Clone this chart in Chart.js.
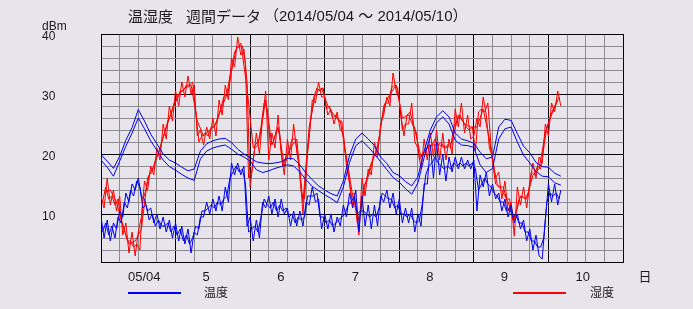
<!DOCTYPE html>
<html>
<head>
<meta charset="utf-8">
<script src="https://cdn.jsdelivr.net/npm/chart.js@4.4.1/dist/chart.umd.min.js"></script>
<style>
  html, body { margin: 0; padding: 0; background: #e8e4ec; }
  #grafico { display: block; }
</style>
</head>
<body>
<canvas id="grafico" width="693" height="309"></canvas>
<script>
// sampling grid (hours since 05/04 00:00)
const horasHora = Array.from({ length: 149 }, (_, i) => i);
const horasMeia = Array.from({ length: 148 }, (_, i) => i + 0.5);
const horasPares = Array.from({ length: 75 }, (_, i) => i * 2);
const horasImpares = Array.from({ length: 74 }, (_, i) => i * 2 + 1);

const diasLabels = ['05/04', '5', '6', '7', '8', '9', '10'];
const yLabels = [10, 20, 30, 40];

// 温度 - two smooth sensors (every 2 h)
const temp1 = [
    19.9, 18.8, 17.6, 19.6, 22.3, 24.4, 27.4, 25.5, 23.3, 21.7,
    20.0, 19.0, 18.5, 17.8, 17.2, 17.5, 20.5, 21.7, 22.2, 22.5,
    22.6, 21.9, 20.8, 20.0, 19.4, 18.7, 18.5, 18.4, 18.5, 18.7,
    19.3, 19.2, 18.2, 16.8, 15.7, 14.7, 14.0, 13.4, 13.0, 15.5,
    19.8, 22.5, 23.5, 22.5, 21.4, 19.5, 18.4, 16.9, 16.4, 15.4,
    14.7, 16.2, 20.5, 24.0, 26.2, 27.2, 26.2, 23.5, 22.5, 22.2,
    21.8, 20.3, 19.2, 19.5, 24.5, 25.8, 25.6, 23.4, 21.3, 20.2,
    18.6, 17.9, 17.8, 16.8, 16.3
];
const temp2 = [
    19.0, 17.8, 16.3, 18.8, 21.3, 23.5, 26.0, 24.2, 22.2, 20.6,
    19.0, 17.9, 17.3, 16.6, 16.0, 15.6, 19.2, 20.5, 21.0, 21.3,
    21.5, 20.8, 20.0, 19.5, 18.8, 17.4, 16.9, 17.2, 17.6, 17.9,
    18.2, 18.0, 17.0, 15.7, 14.6, 13.9, 13.2, 12.6, 11.9, 14.5,
    18.6, 21.4, 22.2, 21.2, 20.0, 18.7, 17.4, 16.1, 15.3, 14.2,
    13.3, 15.2, 19.4, 23.0, 25.2, 26.2, 25.0, 22.3, 21.5, 21.4,
    21.1, 18.2, 16.9, 17.6, 22.5, 24.2, 24.5, 22.0, 19.8, 18.5,
    17.1, 16.3, 16.2, 15.2, 14.8
];
// 温度 - noisy sensor, read on the hour and on the half hour
const temp3 = [
    9.5, 6, 9, 5.5, 8.5, 7.5, 10.5, 9.5, 13.5, 12,
    15, 14, 16, 13, 12.5, 10.5, 11, 8.5, 10, 7.5,
    9.5, 7, 9, 6, 8.5, 5.5, 8, 5, 7.5, 3.5,
    7, 6.5, 9.5, 9.5, 12, 10, 12.5, 10.5, 13, 10.5,
    14.5, 12, 18.5, 16.5, 18.5, 16.5, 18, 8, 9.5, 5.5,
    9, 6, 12, 11, 13, 10, 12.5, 9.5, 12.5, 10,
    11, 8, 10.5, 8, 10.5, 8, 12, 11.5, 14.5, 12,
    12.5, 7.5, 10, 7.5, 10, 7, 9.5, 8, 11.5, 9.5,
    13.5, 11, 14, 7, 13, 8, 11.5, 7.5, 11.5, 8,
    13, 12, 14, 11, 13.5, 10, 12.5, 8.5, 11, 8.5,
    11, 7, 10, 8, 15, 15, 21.5, 16, 22, 16.5,
    20, 15.5, 19.5, 17, 19.5, 17.5, 19.5, 17.5, 19, 17.5,
    19, 10.5, 16.5, 14.5, 17, 13, 15, 12.5, 13.5, 10.5,
    12.5, 9.5, 11.5, 8.5, 10, 7.5, 9, 5.5, 7.5, 4,
    6.5, 3, 2.5, 9, 15, 12, 15, 11.5, 14
];
const temp3Meia = [
    7, 8.5, 6.5, 8, 6, 9.5, 8.5, 12, 11, 14,
    13, 15.5, 14.5, 11, 11.5, 9, 10, 8, 9, 8,
    8, 8.5, 7, 8, 6.5, 7.5, 5.5, 6.5, 5, 6,
    8, 7.5, 10.5, 10.5, 11, 11.5, 11, 12, 11.5, 12.5,
    13, 16, 17, 18, 17, 17.5, 15, 7, 7.5, 8,
    7, 9.5, 12.5, 11.5, 11, 12, 10.5, 11.5, 10.5, 11,
    9.5, 10, 8.5, 9.5, 9, 9.5, 13, 13, 13, 13.5,
    9.5, 9.5, 8.5, 9, 8, 8.5, 9, 9.5, 10, 11.5,
    12, 13, 10, 10.5, 10.5, 10, 9.5, 10, 9.5, 11,
    13.5, 13, 12.5, 12.5, 11, 11.5, 10, 10, 9.5, 10,
    9, 8.5, 9, 12, 16.5, 18, 18.5, 19.5, 18.5, 18,
    17.5, 18, 17.5, 18.5, 18, 18.5, 18, 18.5, 18, 18.5,
    17.5, 14, 15, 16, 15, 14.5, 13.5, 13, 12, 12,
    10.5, 11, 9.5, 10, 8.5, 8.5, 7, 7, 5.5, 5.5,
    4.5, 4.5, 6, 12, 13.5, 13, 13.5, 12.5
];

// 湿度 - hourly, half-hourly and a third sensor on odd hours
const umid1 = [
    13, 11, 16, 11.5, 14, 10.5, 13, 6.5, 8.5, 3.5,
    7, 3, 7, 9.5, 15.5, 14, 18, 16.5, 21, 19,
    25, 22.5, 28, 25.5, 30.5, 28, 32, 29.5, 33, 30,
    31.5, 23, 24, 21.5, 24.5, 22.5, 26, 23, 29, 26.5,
    31.5, 29, 36, 34.5, 39.5, 36.5, 37.5, 32, 14.5, 19,
    23.5, 20, 26, 30.5, 19, 23.5, 21, 26.5, 20, 16.5,
    22.5, 19, 25, 20.5, 17, 10, 17.5, 23, 29, 28.5,
    32, 29.5, 29.5, 26.5, 27.5, 25, 27, 24, 23.5, 18,
    15, 11.5, 11, 6.5, 16, 13, 17.5, 16.5, 22, 19.5,
    25, 26.5, 29.5, 28, 33.5, 30.5, 29, 24, 25, 25,
    28.5, 22, 21, 17.5, 22.5, 19, 23.5, 19.5, 24, 19,
    23.5, 19, 22.5, 20, 27.5, 24.5, 28.5, 23.5, 26.5, 22.5,
    23, 26, 24.5, 29.5, 26.5, 21, 19.5, 16, 17, 12.5,
    15.5, 10.5, 12, 6.3, 14.5, 11.5, 14.5, 11, 15, 18.5,
    16, 19.5, 18.5, 25, 23, 28.5, 27, 30.5, 28
];
const umidMeia = [
    12, 14.5, 12.5, 13, 11.5, 12.5, 9, 7.5, 5.5, 5.5,
    4.5, 5, 4, 12.5, 14, 16.5, 17, 19, 20, 22,
    23.5, 25.5, 26.5, 28.5, 29, 30.5, 30.5, 31.5, 31.5, 32,
    27, 22, 23, 23.5, 23, 24.5, 24.5, 26, 27.5, 29.5,
    30, 33, 35, 37.5, 38, 38, 35, 16, 17, 21,
    21.5, 24.5, 28.5, 27.5, 21.5, 22, 24, 23.5, 18, 19.5,
    20.5, 22.5, 22.5, 19, 13.5, 12.5, 20.5, 25.5, 29.5, 31,
    30.5, 31, 27.5, 28, 26, 26.5, 25.5, 25.5, 20.5, 17.5,
    13, 13.5, 8.5, 10, 14.5, 15.5, 17, 19, 20.5, 22.5,
    26, 28.5, 28.5, 31, 31.5, 31, 26.5, 23, 26.5, 27,
    25, 23.5, 19, 20, 20.5, 21.5, 21.5, 22.5, 21.5, 22,
    21, 21.5, 21, 24.5, 25.5, 26.5, 25.5, 24.5, 24, 24.5,
    20.5, 27, 27.5, 27, 28.5, 21.5, 17.5, 15, 14.5, 14.5,
    12.5, 12.5, 9, 10, 12.5, 13, 12.5, 13.5, 17, 16.5,
    18, 17.5, 21, 24.5, 26, 27.5, 28.5, 29.5
];
const umid2 = [
    13.5, 14, 12, 8, 5, 5.5, 7.5, 16, 18, 21,
    24.5, 27.5, 30, 31, 31.5, 25.5, 23, 24, 25, 28,
    30.5, 37, 38.5, 31, 21, 22.5, 29, 21.5, 24.5, 18,
    21, 22.5, 12, 24.5, 30, 31, 28, 26.5, 25.5, 19.5,
    13, 9, 15, 18.5, 21, 28, 30, 31.5, 26, 26.5,
    24, 19.5, 21, 21.5, 21.5, 21, 22, 26.5, 25, 24.5,
    24.5, 27.5, 22.5, 15, 14, 12, 9, 13, 12.5, 16.5,
    17.5, 23.5, 26.5, 29
];

const AZUL = '#0000f0';
const VERMELHO = '#ff0000';
const FUNDO = '#e8e4ec';
const TEXTO = '#1a1a1a';

function pontos(horas, valores) {
    return horas.map((h, i) => ({ x: h, y: valores[i] }));
}

function serie(horas, valores, cor, ordem) {
    return {
        data: pontos(horas, valores),
        borderColor: cor,
        borderWidth: 1,
        pointRadius: 0,
        tension: 0,
        fill: false,
        order: ordem
    };
}

const fundoPlugin = {
    id: 'fundo',
    beforeDraw(chart) {
        const ctx = chart.ctx;
        ctx.save();
        ctx.fillStyle = FUNDO;
        ctx.fillRect(0, 0, chart.width, chart.height);
        ctx.restore();
    }
};

const textosPlugin = {
    id: 'textos',
    afterDraw(chart) {
        const ctx = chart.ctx;
        const { x, y } = chart.scales;
        ctx.save();
        ctx.fillStyle = TEXTO;
        ctx.textBaseline = 'middle';

        // title
        ctx.font = '15px "Noto Sans CJK JP", sans-serif';
        ctx.textAlign = 'left';
        ctx.fillText('温湿度', 128, 16);
        ctx.fillText('週間データ', 186, 16);
        ctx.font = '15px "Liberation Sans", "Noto Sans CJK JP", sans-serif';
        ctx.fillText('（2014/05/04 ～ 2014/05/10）', 264, 17);

        // y axis
        ctx.font = '12px "Liberation Sans", sans-serif';
        ctx.fillText('dBm', 42, 27);
        yLabels.forEach(v => ctx.fillText(String(v), 42, y.getPixelForValue(v) + 3));

        // x axis
        ctx.font = '13px "Liberation Sans", sans-serif';
        diasLabels.forEach((d, i) => ctx.fillText(d, x.getPixelForValue(i * 24) + 27, 277));
        ctx.font = '13px "Noto Sans CJK JP", sans-serif';
        ctx.textAlign = 'center';
        ctx.fillText('日', x.right + 22, 276);

        // legend
        ctx.lineWidth = 2;
        ctx.strokeStyle = AZUL;
        ctx.beginPath(); ctx.moveTo(128, 293); ctx.lineTo(181, 293); ctx.stroke();
        ctx.strokeStyle = VERMELHO;
        ctx.beginPath(); ctx.moveTo(513, 293); ctx.lineTo(566, 293); ctx.stroke();
        ctx.font = '12px "Noto Sans CJK JP", sans-serif';
        ctx.textAlign = 'left';
        ctx.fillText('温度', 204, 292);
        ctx.fillText('湿度', 590, 292);
        ctx.restore();
    }
};

new Chart(document.getElementById('grafico'), {
    type: 'line',
    data: {
        datasets: [
            serie(horasPares, temp1, AZUL, 1),
            serie(horasPares, temp2, AZUL, 1),
            serie(horasHora, temp3, AZUL, 1),
            serie(horasMeia, temp3Meia, AZUL, 1),
            serie(horasHora, umid1, VERMELHO, 2),
            serie(horasMeia, umidMeia, VERMELHO, 2),
            serie(horasImpares, umid2, VERMELHO, 2)
        ]
    },
    options: {
        responsive: false,
        animation: false,
        devicePixelRatio: 1,
        layout: { padding: { left: 101, top: 34, right: 70, bottom: 47 } },
        plugins: { legend: { display: false }, tooltip: { enabled: false }, title: { display: false } },
        scales: {
            x: {
                type: 'linear', min: 0, max: 168,
                ticks: { display: false, stepSize: 6, maxTicksLimit: 100, autoSkip: false },
                grid: {
                    drawTicks: false,
                    color: c => (c.tick.value % 24 === 0 ? '#000000' : '#8c8c8c')
                },
                border: { display: true, color: '#000000' }
            },
            y: {
                min: 2, max: 40,
                ticks: { display: false, stepSize: 2, maxTicksLimit: 100 },
                grid: {
                    drawTicks: false,
                    color: c => (c.tick.value % 10 === 0 ? '#000000' : '#8c8c8c')
                },
                border: { display: true, color: '#000000' }
            }
        }
    },
    plugins: [fundoPlugin, textosPlugin]
});
</script>
</body>
</html>
